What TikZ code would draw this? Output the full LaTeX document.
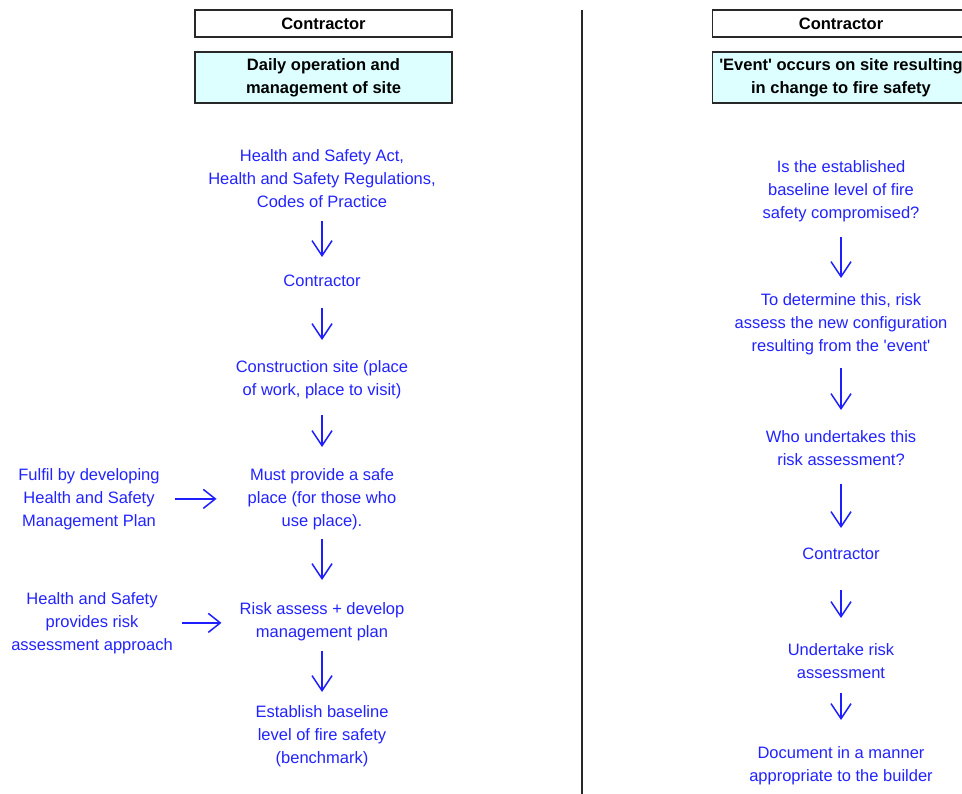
\documentclass[tikz,border=0pt]{standalone}
\usepackage{fontspec}
\setmainfont{Liberation Sans}
\usetikzlibrary{arrows.meta}
\definecolor{txtblue}{RGB}{35,35,255}
\definecolor{arrblue}{RGB}{30,30,255}
\definecolor{boxfill}{RGB}{221,255,255}
\definecolor{boxline}{RGB}{40,40,40}
\tikzset{
  txt/.style={text=txtblue, align=center, inner sep=0pt, anchor=north,
    font=\fontsize{16.5}{23}\selectfont},
  hdr/.style={draw=boxline, line width=1.6pt, align=center, inner sep=0pt,
    font=\fontsize{16.5}{23}\selectfont\bfseries, minimum width=257pt},
  varr/.style={draw=arrblue, line width=1.5pt,
    -{Straight Barb[length=15pt,width=20pt,line width=1.5pt]}},
  harr/.style={draw=arrblue, line width=1.5pt,
    -{Straight Barb[length=12pt,width=19pt,line width=1.5pt]}}
}
\begin{document}
\begin{tikzpicture}[x=1pt,y=-1pt]
\useasboundingbox (0,0) rectangle (962,794);
\clip (0,0) rectangle (962,794);
\fill[white] (0,0) rectangle (962,794);

% divider
\draw[boxline, line width=2pt] (582,10) coordinate (dtop) -- (582,794) coordinate (dbot);

% header boxes
\node[hdr, minimum height=27pt] (hL1) at (323.5,23.5) {Contractor};
\node[hdr, fill=boxfill, minimum height=51pt] (hL2) at (323.5,77.5) {Daily operation and\\management of site};
\node[hdr, minimum height=27pt] (hR1) at (841,23.5) {Contractor};
\node[hdr, fill=boxfill, minimum height=51pt] (hR2) at (841,77.5) {\textquotesingle Event\textquotesingle{} occurs on site resulting\\in change to fire safety};

% left column
\node[txt] (L1) at (322,149) {Health and Safety Act,\\Health and Safety Regulations,\\Codes of Practice};
\node[txt] (L2) at (322,275) {Contractor};
\node[txt] (L3) at (322,360) {Construction site (place\\of work, place to visit)};
\node[txt] (L4) at (322,468) {Must provide a safe\\place (for those who\\use place).};
\node[txt] (L5) at (322,602) {Risk assess + develop\\management plan};
\node[txt] (L6) at (322,705) {Establish baseline\\level of fire safety\\(benchmark)};

\node[txt] (F) at (89,468) {Fulfil by developing\\Health and Safety\\Management Plan};
\node[txt] (H) at (92,592) {Health and Safety\\provides risk\\assessment approach};

\draw[varr, shorten <=13pt, shorten >=18pt] (L1) -- (L2);
\draw[varr, shorten <=21pt, shorten >=20pt] (L2) -- (L3);
\draw[varr, shorten <=16.5pt, shorten >=21pt] (L3) -- (L4);
\draw[varr, shorten <=9pt, shorten >=22pt] (L4) -- (L5);
\draw[varr, shorten <=10pt, shorten >=13pt] (L5) -- (L6);

\draw[harr, shorten <=15pt, shorten >=31pt] (F) -- (F -| L4.west);
\draw[harr, shorten <=9pt, shorten >=18pt] (H) -- (H -| L5.west);

% right column
\node[txt] (R1) at (841,160) {Is the established\\baseline level of fire\\safety compromised?};
\node[txt] (R2) at (841,293) {To determine this, risk\\assess the new configuration\\resulting from the \textquotesingle event\textquotesingle};
\node[txt] (R3) at (841,430) {Who undertakes this\\risk assessment?};
\node[txt] (R4) at (841,548) {Contractor};
\node[txt] (R5) at (841,643) {Undertake risk\\assessment};
\node[txt] (R6) at (841,746) {Document in a manner\\appropriate to the builder};

\draw[varr, shorten <=15.5pt, shorten >=15pt] (R1) -- (R2);
\draw[varr, shorten <=13.5pt, shorten >=20pt] (R2) -- (R3);
\draw[varr, shorten <=18pt, shorten >=20pt] (R3) -- (R4);
\draw[varr, shorten <=30pt, shorten >=25pt] (R4) -- (R5);
\draw[varr, shorten <=14pt, shorten >=26pt] (R5) -- (R6);
\end{tikzpicture}
\end{document}
